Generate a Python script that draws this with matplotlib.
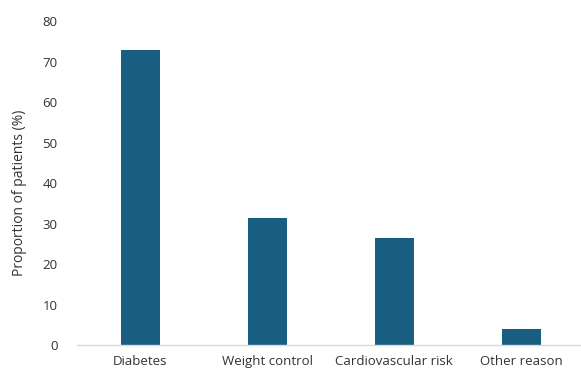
import matplotlib
matplotlib.use("Agg")
import matplotlib.pyplot as plt

categories = ["Diabetes", "Weight control", "Cardiovascular risk", "Other reason"]
proportions = [73.0, 31.4, 26.5, 4.0]
y_ticks = [0, 10, 20, 30, 40, 50, 60, 70, 80]

plt.rcParams["font.family"] = ["Open Sans", "DejaVu Sans"]

fig = plt.figure(figsize=(5.81, 3.69), dpi=100)
ax = fig.add_axes([0.1325, 0.065, 0.8675, 0.877])

x = range(len(categories))
ax.bar(x, proportions, width=0.31, color="#175E81", zorder=2)

ax.set_xlim(-0.5, 3.47)
ax.set_ylim(0, 80)
ax.set_yticks(y_ticks)
ax.set_xticks(list(x))
ax.set_xticklabels(categories)

for side in ["top", "right", "left"]:
    ax.spines[side].set_visible(False)
ax.spines["bottom"].set_color("#D9D9D9")
ax.spines["bottom"].set_linewidth(1.0)

ax.tick_params(axis="both", length=0, labelsize=9.5, colors="#333333")
ax.tick_params(axis="y", pad=14)
ax.tick_params(axis="x", pad=7)
ax.set_ylabel("Proportion of patients (%)", fontsize=10, color="#333333")
ax.yaxis.set_label_coords(-0.1, 0.47)

fig.savefig("out.png", dpi=100)
